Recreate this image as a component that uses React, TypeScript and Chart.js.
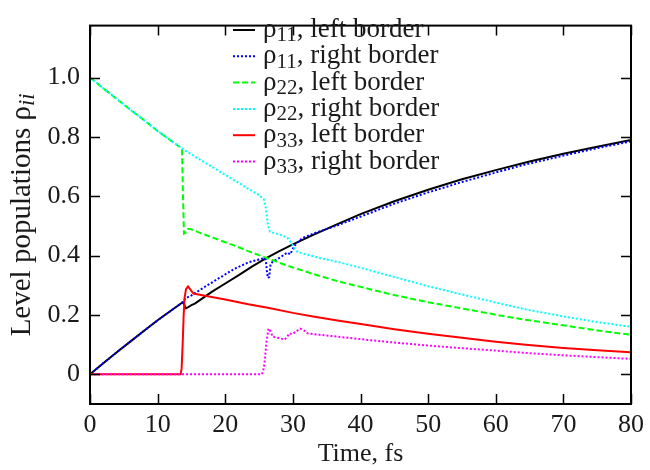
import React, { useEffect, useRef } from "react";
import { Chart, registerables } from "chart.js";

Chart.register(...registerables);

// ---------- axis ticks ----------
const xTicks = [0, 10, 20, 30, 40, 50, 60, 70, 80];
const yTicks = [0, 0.2, 0.4, 0.6, 0.8, 1.0];
const yTickLabels = ["0", "0.2", "0.4", "0.6", "0.8", "1.0"];
const xTitle = "Time, fs";
const yTitleMain = "Level populations ";
const yTitleSymbol = "ρ";
const yTitleSub = "ii";

// ---------- series ----------
const tRho11Left = [0, 2, 4, 6, 8, 10, 12, 13.6, 13.75, 14.2, 14.5, 15.0, 15.5, 17, 18, 20, 22, 24, 26, 28, 30, 33, 36, 40, 45, 50, 55, 60, 65, 70, 75, 80];
const rho11Left = [0, 0.038, 0.075, 0.111, 0.147, 0.182, 0.215, 0.241, 0.243, 0.222, 0.226, 0.233, 0.238, 0.262, 0.278, 0.306, 0.334, 0.364, 0.391, 0.415, 0.438, 0.47, 0.5, 0.54, 0.583, 0.622, 0.657, 0.688, 0.717, 0.743, 0.767, 0.79];

const tRho11Right = [0, 2, 4, 6, 8, 10, 12, 13.6, 14.1, 15, 17, 19, 21.4, 23.4, 25.0, 25.8, 26.0, 26.15, 26.3, 26.5, 26.7, 27.0, 27.6, 28.2, 28.8, 29.2, 29.6, 30.2, 30.8, 31.4, 33, 36.6, 41, 45, 50, 55, 60, 64.4, 70, 75, 80];
const rho11Right = [0, 0.038, 0.075, 0.111, 0.147, 0.182, 0.215, 0.241, 0.256, 0.266, 0.295, 0.323, 0.356, 0.377, 0.387, 0.392, 0.385, 0.35, 0.325, 0.328, 0.372, 0.379, 0.387, 0.395, 0.405, 0.41, 0.404, 0.432, 0.447, 0.459, 0.474, 0.502, 0.54, 0.575, 0.613, 0.648, 0.68, 0.707, 0.737, 0.762, 0.785];

const tRho22Left = [0, 2, 4, 6, 8, 10, 12, 13.6, 13.75, 13.9, 14.2, 14.5, 14.8, 16, 18, 20, 22, 23.4, 25.8, 28, 30, 33, 36.6, 41, 45, 50, 55, 60, 64.4, 70, 75, 80];
const rho22Left = [1, 0.963, 0.927, 0.891, 0.856, 0.82, 0.787, 0.761, 0.6, 0.474, 0.478, 0.49, 0.49, 0.479, 0.462, 0.445, 0.428, 0.415, 0.395, 0.376, 0.36, 0.338, 0.314, 0.289, 0.267, 0.243, 0.222, 0.201, 0.184, 0.165, 0.148, 0.133];

const tRho22Right = [0, 2, 4, 6, 8, 10, 12, 13.6, 16, 18, 20, 22, 23.4, 25.0, 25.7, 26.0, 26.3, 26.6, 27.2, 28.2, 29.2, 29.7, 30.2, 30.7, 32, 34, 36.6, 41, 45, 50, 55, 60, 64.4, 70, 75, 80];
const rho22Right = [1, 0.963, 0.927, 0.891, 0.856, 0.82, 0.787, 0.761, 0.727, 0.7, 0.672, 0.645, 0.625, 0.604, 0.59, 0.56, 0.505, 0.481, 0.476, 0.47, 0.46, 0.445, 0.425, 0.412, 0.404, 0.392, 0.379, 0.353, 0.328, 0.297, 0.269, 0.242, 0.219, 0.195, 0.176, 0.16];

const tRho33Left = [0, 13.4, 13.55, 13.7, 13.85, 14.0, 14.2, 14.5, 14.9, 15.3, 17, 20, 23.4, 26.3, 30, 33, 36.6, 41, 45, 50, 55, 60, 64.4, 70, 75, 80];
const rho33Left = [0, 0, 0.02, 0.1, 0.2, 0.26, 0.287, 0.296, 0.284, 0.272, 0.265, 0.252, 0.236, 0.224, 0.207, 0.195, 0.181, 0.166, 0.152, 0.137, 0.123, 0.11, 0.1, 0.089, 0.081, 0.074];

const tRho33Right = [0, 25.4, 25.6, 25.8, 26.1, 26.4, 26.7, 27.0, 27.5, 28.0, 28.8, 29.2, 29.5, 29.9, 30.5, 31.1, 31.7, 32.2, 34, 36.6, 41, 45, 50, 55, 60, 64.4, 70, 75, 80];
const rho33Right = [0, 0, 0.01, 0.036, 0.11, 0.154, 0.145, 0.127, 0.124, 0.122, 0.117, 0.128, 0.138, 0.135, 0.145, 0.154, 0.147, 0.138, 0.133, 0.127, 0.116, 0.107, 0.097, 0.088, 0.08, 0.072, 0.064, 0.058, 0.052];

// legend text pieces
const legendSymbols = ["ρ", "ρ", "ρ", "ρ", "ρ", "ρ"];
const legendSubs = ["11", "11", "22", "22", "33", "33"];
const legendTexts = [", left border", ", right border", ", left border", ", right border", ", left border", ", right border"];
const seriesLabels = ["ρ₁₁, left border", "ρ₁₁, right border", "ρ₂₂, left border", "ρ₂₂, right border", "ρ₃₃, left border", "ρ₃₃, right border"];
const seriesColors = ["#000000", "#0000ff", "#00ff00", "#00ffff", "#ff0000", "#ff00ff"];
const seriesDash: number[][] = [[], [2, 2], [6, 3], [2, 2], [], [2, 2]];
const seriesT = [tRho11Left, tRho11Right, tRho22Left, tRho22Right, tRho33Left, tRho33Right];
const seriesV = [rho11Left, rho11Right, rho22Left, rho22Right, rho33Left, rho33Right];

const FONT = "'Liberation Serif', 'Times New Roman', serif";
const TEXT_COLOR = "#1a1a1a";

const framePlugin = {
  id: "frameTicks",
  afterDatasetsDraw(chart: any) {
    const { ctx, chartArea: a, scales } = chart;
    const L = 10;
    ctx.save();
    ctx.strokeStyle = "#000";
    ctx.lineWidth = 1.5;
    ctx.beginPath();
    for (const v of xTicks) {
      const px = Math.round(scales.x.getPixelForValue(v)) + 0.5;
      ctx.moveTo(px, a.bottom);
      ctx.lineTo(px, a.bottom - L);
      ctx.moveTo(px, a.top);
      ctx.lineTo(px, a.top + L);
    }
    for (const v of yTicks) {
      const py = Math.round(scales.y.getPixelForValue(v)) + 0.5;
      ctx.moveTo(a.left, py);
      ctx.lineTo(a.left + L, py);
      ctx.moveTo(a.right, py);
      ctx.lineTo(a.right - L, py);
    }
    ctx.stroke();
    ctx.lineWidth = 2;
    ctx.strokeRect(a.left, a.top, a.right - a.left, a.bottom - a.top);
    ctx.restore();
  },
};

const LEG_FS = 27;
const legendPlugin = {
  id: "customLegend",
  afterDraw(chart: any) {
    const { ctx } = chart;
    const x0 = 233;
    const lineLen = 22;
    const textX = 263;
    const y0 = 30;
    const dy = 26.3;
    ctx.save();
    chart.data.datasets.forEach((ds: any, i: number) => {
      const y = y0 + i * dy;
      ctx.strokeStyle = ds.borderColor;
      ctx.lineWidth = 2;
      ctx.setLineDash(ds.borderDash || []);
      ctx.beginPath();
      ctx.moveTo(x0, y);
      ctx.lineTo(x0 + lineLen, y);
      ctx.stroke();
      ctx.setLineDash([]);
      ctx.fillStyle = TEXT_COLOR;
      ctx.textBaseline = "middle";
      ctx.textAlign = "left";
      let x = textX;
      ctx.font = `${LEG_FS}px ${FONT}`;
      ctx.fillText(legendSymbols[i], x, y);
      x += ctx.measureText(legendSymbols[i]).width;
      ctx.font = `${Math.round(LEG_FS * 0.78)}px ${FONT}`;
      ctx.fillText(legendSubs[i], x, y + LEG_FS * 0.22);
      x += ctx.measureText(legendSubs[i]).width;
      ctx.font = `${LEG_FS}px ${FONT}`;
      ctx.fillText(legendTexts[i], x, y);
    });
    ctx.restore();
  },
};

const YT_FS = 29;
const yTitlePlugin = {
  id: "yTitle",
  afterDraw(chart: any) {
    const { ctx, chartArea: a } = chart;
    const cx = 22;
    const cy = (a.top + a.bottom) / 2;
    ctx.save();
    ctx.translate(cx, cy);
    ctx.rotate(-Math.PI / 2);
    ctx.fillStyle = TEXT_COLOR;
    ctx.textBaseline = "middle";
    ctx.textAlign = "left";
    const mainFont = `${YT_FS}px ${FONT}`;
    const subFont = `italic ${Math.round(YT_FS * 0.78)}px ${FONT}`;
    ctx.font = mainFont;
    const w1 = ctx.measureText(yTitleMain).width;
    const w2 = ctx.measureText(yTitleSymbol).width;
    ctx.font = subFont;
    const w3 = ctx.measureText(yTitleSub).width;
    let x = -(w1 + w2 + w3) / 2;
    ctx.font = mainFont;
    ctx.fillText(yTitleMain, x, 0);
    x += w1;
    ctx.fillText(yTitleSymbol, x, 0);
    x += w2;
    ctx.font = subFont;
    ctx.fillText(yTitleSub, x, YT_FS * 0.22);
    ctx.restore();
  },
};

export default function App() {
  const canvasRef = useRef<HTMLCanvasElement | null>(null);

  useEffect(() => {
    document.body.style.margin = "0";
    const canvas = canvasRef.current;
    if (!canvas) return;
    const datasets = seriesV.map((vals, i) => ({
      label: seriesLabels[i],
      data: vals.map((v, j) => ({ x: seriesT[i][j], y: v })),
      borderColor: seriesColors[i],
      backgroundColor: seriesColors[i],
      borderDash: seriesDash[i],
      borderWidth: 2,
      pointRadius: 0,
      tension: 0,
      fill: false,
      order: 10 - i,
    }));
    const chart = new Chart(canvas, {
      type: "line",
      data: { datasets },
      options: {
        animation: false,
        responsive: true,
        maintainAspectRatio: false,
        layout: { padding: { top: 7, right: 13, left: 0, bottom: 0 } },
        plugins: {
          legend: { display: false },
          tooltip: { enabled: false },
        },
        scales: {
          x: {
            type: "linear",
            min: 0,
            max: 80,
            grid: { display: false, drawTicks: false },
            border: { display: false },
            afterBuildTicks: (scale: any) => {
              scale.ticks = xTicks.map((v) => ({ value: v }));
            },
            afterFit: (scale: any) => {
              scale.height = 66;
            },
            ticks: {
              padding: 6,
              color: TEXT_COLOR,
              font: { family: FONT, size: 26 },
              maxRotation: 0,
              autoSkip: false,
              callback: (v: any) => String(v),
            },
            title: {
              display: true,
              text: xTitle,
              color: TEXT_COLOR,
              font: { family: FONT, size: 26 },
              padding: { top: 0, bottom: 0 },
            },
          },
          y: {
            type: "linear",
            min: -0.1,
            max: 1.175,
            grid: { display: false, drawTicks: false },
            border: { display: false },
            afterBuildTicks: (scale: any) => {
              scale.ticks = yTicks.map((v) => ({ value: v }));
            },
            afterFit: (scale: any) => {
              scale.width = 90;
            },
            ticks: {
              padding: 10,
              color: TEXT_COLOR,
              font: { family: FONT, size: 26 },
              autoSkip: false,
              callback: (v: any) => {
                const idx = yTicks.findIndex((t) => Math.abs(t - v) < 1e-9);
                return idx >= 0 ? yTickLabels[idx] : "";
              },
            },
          },
        },
      },
      plugins: [framePlugin, legendPlugin, yTitlePlugin],
    });
    return () => chart.destroy();
  }, []);

  return (
    <div style={{ width: 650, height: 470, position: "relative", background: "#fff" }}>
      <canvas ref={canvasRef} />
    </div>
  );
}
